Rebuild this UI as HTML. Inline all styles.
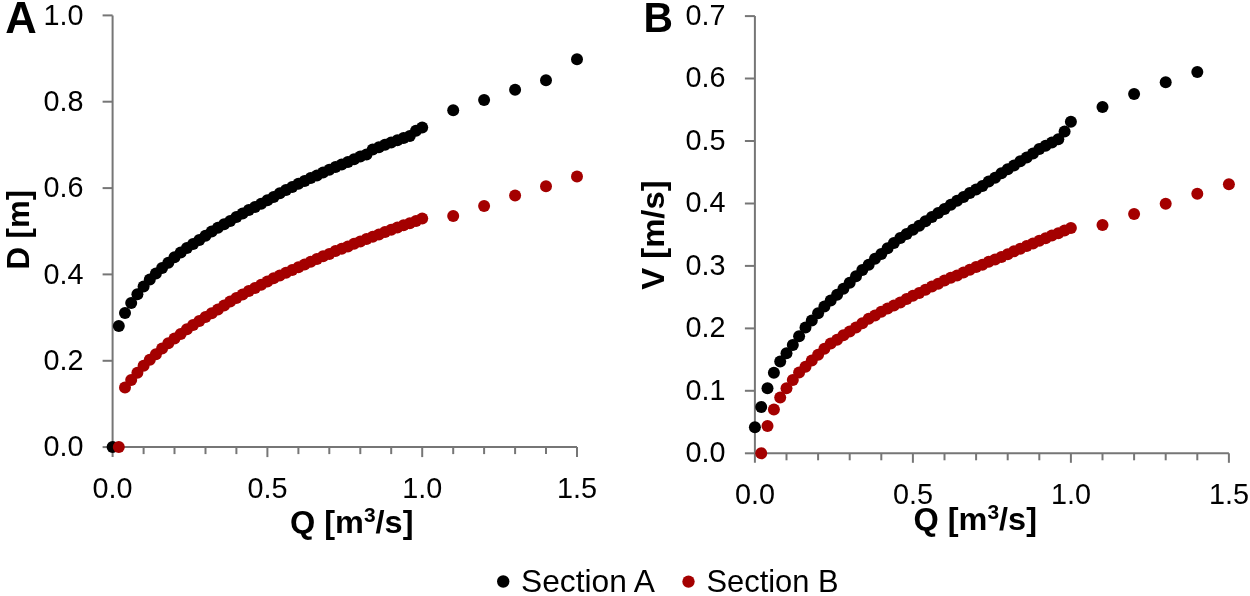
<!DOCTYPE html>
<html><head><meta charset="utf-8"><style>
html,body{margin:0;padding:0;background:#fff;width:1250px;height:596px;overflow:hidden}
svg{display:block;will-change:transform}
.t{font-family:"Liberation Sans",sans-serif;font-size:29.5px;fill:#000}
.b{font-family:"Liberation Sans",sans-serif;font-weight:bold;fill:#000}
</style></head><body>
<svg width="1250" height="596" viewBox="0 0 1250 596">
<rect width="1250" height="596" fill="#fff"/>
<line x1="112.6" y1="15.4" x2="112.6" y2="457.1" stroke="#767676" stroke-width="2"/>
<line x1="112.6" y1="447.1" x2="577.0" y2="447.1" stroke="#767676" stroke-width="2"/>
<line x1="102.6" y1="447.1" x2="112.6" y2="447.1" stroke="#767676" stroke-width="2"/>
<line x1="102.6" y1="360.8" x2="112.6" y2="360.8" stroke="#767676" stroke-width="2"/>
<line x1="102.6" y1="274.4" x2="112.6" y2="274.4" stroke="#767676" stroke-width="2"/>
<line x1="102.6" y1="188.1" x2="112.6" y2="188.1" stroke="#767676" stroke-width="2"/>
<line x1="102.6" y1="101.7" x2="112.6" y2="101.7" stroke="#767676" stroke-width="2"/>
<line x1="102.6" y1="15.4" x2="112.6" y2="15.4" stroke="#767676" stroke-width="2"/>
<line x1="143.6" y1="447.1" x2="143.6" y2="454.1" stroke="#767676" stroke-width="2"/>
<line x1="174.5" y1="447.1" x2="174.5" y2="454.1" stroke="#767676" stroke-width="2"/>
<line x1="205.5" y1="447.1" x2="205.5" y2="454.1" stroke="#767676" stroke-width="2"/>
<line x1="236.4" y1="447.1" x2="236.4" y2="454.1" stroke="#767676" stroke-width="2"/>
<line x1="267.4" y1="447.1" x2="267.4" y2="457.1" stroke="#767676" stroke-width="2"/>
<line x1="298.4" y1="447.1" x2="298.4" y2="454.1" stroke="#767676" stroke-width="2"/>
<line x1="329.3" y1="447.1" x2="329.3" y2="454.1" stroke="#767676" stroke-width="2"/>
<line x1="360.3" y1="447.1" x2="360.3" y2="454.1" stroke="#767676" stroke-width="2"/>
<line x1="391.2" y1="447.1" x2="391.2" y2="454.1" stroke="#767676" stroke-width="2"/>
<line x1="422.2" y1="447.1" x2="422.2" y2="457.1" stroke="#767676" stroke-width="2"/>
<line x1="453.2" y1="447.1" x2="453.2" y2="454.1" stroke="#767676" stroke-width="2"/>
<line x1="484.1" y1="447.1" x2="484.1" y2="454.1" stroke="#767676" stroke-width="2"/>
<line x1="515.1" y1="447.1" x2="515.1" y2="454.1" stroke="#767676" stroke-width="2"/>
<line x1="546.0" y1="447.1" x2="546.0" y2="454.1" stroke="#767676" stroke-width="2"/>
<line x1="577.0" y1="447.1" x2="577.0" y2="457.1" stroke="#767676" stroke-width="2"/>
<line x1="754.9" y1="16.1" x2="754.9" y2="462.8" stroke="#767676" stroke-width="2"/>
<line x1="754.9" y1="453.3" x2="1228.9" y2="453.3" stroke="#767676" stroke-width="2"/>
<line x1="744.9" y1="453.3" x2="754.9" y2="453.3" stroke="#767676" stroke-width="2"/>
<line x1="744.9" y1="390.8" x2="754.9" y2="390.8" stroke="#767676" stroke-width="2"/>
<line x1="744.9" y1="328.4" x2="754.9" y2="328.4" stroke="#767676" stroke-width="2"/>
<line x1="744.9" y1="265.9" x2="754.9" y2="265.9" stroke="#767676" stroke-width="2"/>
<line x1="744.9" y1="203.5" x2="754.9" y2="203.5" stroke="#767676" stroke-width="2"/>
<line x1="744.9" y1="141.0" x2="754.9" y2="141.0" stroke="#767676" stroke-width="2"/>
<line x1="744.9" y1="78.5" x2="754.9" y2="78.5" stroke="#767676" stroke-width="2"/>
<line x1="744.9" y1="16.1" x2="754.9" y2="16.1" stroke="#767676" stroke-width="2"/>
<line x1="786.5" y1="453.3" x2="786.5" y2="460.3" stroke="#767676" stroke-width="2"/>
<line x1="818.1" y1="453.3" x2="818.1" y2="460.3" stroke="#767676" stroke-width="2"/>
<line x1="849.7" y1="453.3" x2="849.7" y2="460.3" stroke="#767676" stroke-width="2"/>
<line x1="881.3" y1="453.3" x2="881.3" y2="460.3" stroke="#767676" stroke-width="2"/>
<line x1="912.9" y1="453.3" x2="912.9" y2="462.8" stroke="#767676" stroke-width="2"/>
<line x1="944.5" y1="453.3" x2="944.5" y2="460.3" stroke="#767676" stroke-width="2"/>
<line x1="976.1" y1="453.3" x2="976.1" y2="460.3" stroke="#767676" stroke-width="2"/>
<line x1="1007.7" y1="453.3" x2="1007.7" y2="460.3" stroke="#767676" stroke-width="2"/>
<line x1="1039.3" y1="453.3" x2="1039.3" y2="460.3" stroke="#767676" stroke-width="2"/>
<line x1="1070.9" y1="453.3" x2="1070.9" y2="462.8" stroke="#767676" stroke-width="2"/>
<line x1="1102.5" y1="453.3" x2="1102.5" y2="460.3" stroke="#767676" stroke-width="2"/>
<line x1="1134.1" y1="453.3" x2="1134.1" y2="460.3" stroke="#767676" stroke-width="2"/>
<line x1="1165.7" y1="453.3" x2="1165.7" y2="460.3" stroke="#767676" stroke-width="2"/>
<line x1="1197.3" y1="453.3" x2="1197.3" y2="460.3" stroke="#767676" stroke-width="2"/>
<line x1="1228.9" y1="453.3" x2="1228.9" y2="462.8" stroke="#767676" stroke-width="2"/>
<text x="83.6" y="456.4" text-anchor="end" class="t" textLength="40" lengthAdjust="spacingAndGlyphs">0.0</text>
<text x="83.6" y="370.1" text-anchor="end" class="t" textLength="40" lengthAdjust="spacingAndGlyphs">0.2</text>
<text x="83.6" y="283.7" text-anchor="end" class="t" textLength="40" lengthAdjust="spacingAndGlyphs">0.4</text>
<text x="83.6" y="197.4" text-anchor="end" class="t" textLength="40" lengthAdjust="spacingAndGlyphs">0.6</text>
<text x="83.6" y="111.0" text-anchor="end" class="t" textLength="40" lengthAdjust="spacingAndGlyphs">0.8</text>
<text x="83.6" y="24.7" text-anchor="end" class="t" textLength="40" lengthAdjust="spacingAndGlyphs">1.0</text>
<text x="112.6" y="497.6" text-anchor="middle" class="t" textLength="40" lengthAdjust="spacingAndGlyphs">0.0</text>
<text x="267.4" y="497.6" text-anchor="middle" class="t" textLength="40" lengthAdjust="spacingAndGlyphs">0.5</text>
<text x="422.2" y="497.6" text-anchor="middle" class="t" textLength="40" lengthAdjust="spacingAndGlyphs">1.0</text>
<text x="577.0" y="497.6" text-anchor="middle" class="t" textLength="40" lengthAdjust="spacingAndGlyphs">1.5</text>
<text x="725.6" y="462.0" text-anchor="end" class="t" textLength="40" lengthAdjust="spacingAndGlyphs">0.0</text>
<text x="725.6" y="399.5" text-anchor="end" class="t" textLength="40" lengthAdjust="spacingAndGlyphs">0.1</text>
<text x="725.6" y="337.1" text-anchor="end" class="t" textLength="40" lengthAdjust="spacingAndGlyphs">0.2</text>
<text x="725.6" y="274.6" text-anchor="end" class="t" textLength="40" lengthAdjust="spacingAndGlyphs">0.3</text>
<text x="725.6" y="212.2" text-anchor="end" class="t" textLength="40" lengthAdjust="spacingAndGlyphs">0.4</text>
<text x="725.6" y="149.7" text-anchor="end" class="t" textLength="40" lengthAdjust="spacingAndGlyphs">0.5</text>
<text x="725.6" y="87.2" text-anchor="end" class="t" textLength="40" lengthAdjust="spacingAndGlyphs">0.6</text>
<text x="725.6" y="24.8" text-anchor="end" class="t" textLength="40" lengthAdjust="spacingAndGlyphs">0.7</text>
<text x="754.9" y="503.5" text-anchor="middle" class="t" textLength="40" lengthAdjust="spacingAndGlyphs">0.0</text>
<text x="912.9" y="503.5" text-anchor="middle" class="t" textLength="40" lengthAdjust="spacingAndGlyphs">0.5</text>
<text x="1070.9" y="503.5" text-anchor="middle" class="t" textLength="40" lengthAdjust="spacingAndGlyphs">1.0</text>
<text x="1228.9" y="503.5" text-anchor="middle" class="t" textLength="40" lengthAdjust="spacingAndGlyphs">1.5</text>
<text x="5.2" y="32.8" class="b" font-size="43.5" textLength="31.5" lengthAdjust="spacingAndGlyphs">A</text>
<text x="643.6" y="32.3" class="b" font-size="43" textLength="29.5" lengthAdjust="spacingAndGlyphs">B</text>
<text transform="translate(28.8,269.5) rotate(-90)" class="b" font-size="31" textLength="79.5" lengthAdjust="spacingAndGlyphs">D [m]</text>
<text transform="translate(664.3,289.8) rotate(-90)" class="b" font-size="31" textLength="109.5" lengthAdjust="spacingAndGlyphs">V [m/s]</text>
<text x="290" y="533.2" class="b" font-size="31" textLength="123.5" lengthAdjust="spacingAndGlyphs">Q [m<tspan font-size="20" dy="-11">3</tspan><tspan dy="11">/s]</tspan></text>
<text x="913.5" y="529.6" class="b" font-size="31" textLength="123.5" lengthAdjust="spacingAndGlyphs">Q [m<tspan font-size="20" dy="-11">3</tspan><tspan dy="11">/s]</tspan></text>
<circle cx="503.2" cy="581.5" r="6.2" fill="#000000"/>
<text x="521" y="591.6" class="t" style="font-size:32px" textLength="134" lengthAdjust="spacingAndGlyphs">Section A</text>
<circle cx="688.5" cy="581.6" r="6.2" fill="#A40000"/>
<text x="706.5" y="591.6" class="t" style="font-size:32px" textLength="132" lengthAdjust="spacingAndGlyphs">Section B</text>
<circle cx="112.6" cy="447.1" r="6.0" fill="#000000"/>
<circle cx="118.8" cy="326.0" r="6.0" fill="#000000"/>
<circle cx="125.0" cy="313.1" r="6.0" fill="#000000"/>
<circle cx="131.2" cy="302.9" r="6.0" fill="#000000"/>
<circle cx="137.4" cy="294.2" r="6.0" fill="#000000"/>
<circle cx="143.6" cy="286.5" r="6.0" fill="#000000"/>
<circle cx="149.8" cy="279.6" r="6.0" fill="#000000"/>
<circle cx="155.9" cy="273.5" r="6.0" fill="#000000"/>
<circle cx="162.1" cy="268.1" r="6.0" fill="#000000"/>
<circle cx="168.3" cy="262.7" r="6.0" fill="#000000"/>
<circle cx="174.5" cy="257.3" r="6.0" fill="#000000"/>
<circle cx="180.7" cy="252.6" r="6.0" fill="#000000"/>
<circle cx="186.9" cy="248.0" r="6.0" fill="#000000"/>
<circle cx="193.1" cy="243.9" r="6.0" fill="#000000"/>
<circle cx="199.3" cy="240.0" r="6.0" fill="#000000"/>
<circle cx="205.5" cy="235.8" r="6.0" fill="#000000"/>
<circle cx="211.7" cy="231.4" r="6.0" fill="#000000"/>
<circle cx="217.9" cy="227.7" r="6.0" fill="#000000"/>
<circle cx="224.1" cy="224.2" r="6.0" fill="#000000"/>
<circle cx="230.2" cy="220.9" r="6.0" fill="#000000"/>
<circle cx="236.4" cy="217.0" r="6.0" fill="#000000"/>
<circle cx="242.6" cy="213.5" r="6.0" fill="#000000"/>
<circle cx="248.8" cy="209.9" r="6.0" fill="#000000"/>
<circle cx="255.0" cy="207.0" r="6.0" fill="#000000"/>
<circle cx="261.2" cy="203.7" r="6.0" fill="#000000"/>
<circle cx="267.4" cy="200.3" r="6.0" fill="#000000"/>
<circle cx="273.6" cy="196.9" r="6.0" fill="#000000"/>
<circle cx="279.8" cy="193.3" r="6.0" fill="#000000"/>
<circle cx="286.0" cy="190.0" r="6.0" fill="#000000"/>
<circle cx="292.2" cy="186.9" r="6.0" fill="#000000"/>
<circle cx="298.4" cy="183.7" r="6.0" fill="#000000"/>
<circle cx="304.6" cy="180.9" r="6.0" fill="#000000"/>
<circle cx="310.7" cy="178.1" r="6.0" fill="#000000"/>
<circle cx="316.9" cy="175.4" r="6.0" fill="#000000"/>
<circle cx="323.1" cy="172.6" r="6.0" fill="#000000"/>
<circle cx="329.3" cy="169.8" r="6.0" fill="#000000"/>
<circle cx="335.5" cy="167.1" r="6.0" fill="#000000"/>
<circle cx="341.7" cy="164.4" r="6.0" fill="#000000"/>
<circle cx="347.9" cy="161.9" r="6.0" fill="#000000"/>
<circle cx="354.1" cy="159.3" r="6.0" fill="#000000"/>
<circle cx="360.3" cy="156.6" r="6.0" fill="#000000"/>
<circle cx="366.5" cy="154.6" r="6.0" fill="#000000"/>
<circle cx="372.7" cy="149.4" r="6.0" fill="#000000"/>
<circle cx="378.9" cy="147.3" r="6.0" fill="#000000"/>
<circle cx="385.0" cy="144.8" r="6.0" fill="#000000"/>
<circle cx="391.2" cy="142.4" r="6.0" fill="#000000"/>
<circle cx="397.4" cy="140.2" r="6.0" fill="#000000"/>
<circle cx="403.6" cy="138.1" r="6.0" fill="#000000"/>
<circle cx="409.8" cy="136.0" r="6.0" fill="#000000"/>
<circle cx="416.0" cy="130.7" r="6.0" fill="#000000"/>
<circle cx="422.2" cy="127.4" r="6.0" fill="#000000"/>
<circle cx="453.2" cy="110.3" r="6.0" fill="#000000"/>
<circle cx="484.1" cy="100.0" r="6.0" fill="#000000"/>
<circle cx="515.1" cy="89.8" r="6.0" fill="#000000"/>
<circle cx="546.0" cy="80.2" r="6.0" fill="#000000"/>
<circle cx="577.0" cy="59.3" r="6.0" fill="#000000"/>
<circle cx="118.8" cy="447.1" r="6.0" fill="#A40000"/>
<circle cx="125.0" cy="387.6" r="6.0" fill="#A40000"/>
<circle cx="131.2" cy="379.9" r="6.0" fill="#A40000"/>
<circle cx="137.4" cy="372.8" r="6.0" fill="#A40000"/>
<circle cx="143.6" cy="365.7" r="6.0" fill="#A40000"/>
<circle cx="149.8" cy="359.8" r="6.0" fill="#A40000"/>
<circle cx="155.9" cy="354.2" r="6.0" fill="#A40000"/>
<circle cx="162.1" cy="348.4" r="6.0" fill="#A40000"/>
<circle cx="168.3" cy="343.3" r="6.0" fill="#A40000"/>
<circle cx="174.5" cy="338.6" r="6.0" fill="#A40000"/>
<circle cx="180.7" cy="334.0" r="6.0" fill="#A40000"/>
<circle cx="186.9" cy="329.2" r="6.0" fill="#A40000"/>
<circle cx="193.1" cy="325.0" r="6.0" fill="#A40000"/>
<circle cx="199.3" cy="321.0" r="6.0" fill="#A40000"/>
<circle cx="205.5" cy="316.9" r="6.0" fill="#A40000"/>
<circle cx="211.7" cy="313.2" r="6.0" fill="#A40000"/>
<circle cx="217.9" cy="309.5" r="6.0" fill="#A40000"/>
<circle cx="224.1" cy="305.5" r="6.0" fill="#A40000"/>
<circle cx="230.2" cy="301.4" r="6.0" fill="#A40000"/>
<circle cx="236.4" cy="297.9" r="6.0" fill="#A40000"/>
<circle cx="242.6" cy="294.5" r="6.0" fill="#A40000"/>
<circle cx="248.8" cy="291.1" r="6.0" fill="#A40000"/>
<circle cx="255.0" cy="288.0" r="6.0" fill="#A40000"/>
<circle cx="261.2" cy="284.7" r="6.0" fill="#A40000"/>
<circle cx="267.4" cy="281.6" r="6.0" fill="#A40000"/>
<circle cx="273.6" cy="278.3" r="6.0" fill="#A40000"/>
<circle cx="279.8" cy="275.6" r="6.0" fill="#A40000"/>
<circle cx="286.0" cy="272.8" r="6.0" fill="#A40000"/>
<circle cx="292.2" cy="270.1" r="6.0" fill="#A40000"/>
<circle cx="298.4" cy="267.3" r="6.0" fill="#A40000"/>
<circle cx="304.6" cy="264.5" r="6.0" fill="#A40000"/>
<circle cx="310.7" cy="261.8" r="6.0" fill="#A40000"/>
<circle cx="316.9" cy="259.0" r="6.0" fill="#A40000"/>
<circle cx="323.1" cy="256.2" r="6.0" fill="#A40000"/>
<circle cx="329.3" cy="253.9" r="6.0" fill="#A40000"/>
<circle cx="335.5" cy="251.1" r="6.0" fill="#A40000"/>
<circle cx="341.7" cy="248.8" r="6.0" fill="#A40000"/>
<circle cx="347.9" cy="246.4" r="6.0" fill="#A40000"/>
<circle cx="354.1" cy="243.7" r="6.0" fill="#A40000"/>
<circle cx="360.3" cy="241.4" r="6.0" fill="#A40000"/>
<circle cx="366.5" cy="239.1" r="6.0" fill="#A40000"/>
<circle cx="372.7" cy="236.8" r="6.0" fill="#A40000"/>
<circle cx="378.9" cy="234.4" r="6.0" fill="#A40000"/>
<circle cx="385.0" cy="232.1" r="6.0" fill="#A40000"/>
<circle cx="391.2" cy="229.8" r="6.0" fill="#A40000"/>
<circle cx="397.4" cy="227.5" r="6.0" fill="#A40000"/>
<circle cx="403.6" cy="225.3" r="6.0" fill="#A40000"/>
<circle cx="409.8" cy="223.2" r="6.0" fill="#A40000"/>
<circle cx="416.0" cy="221.1" r="6.0" fill="#A40000"/>
<circle cx="422.2" cy="218.5" r="6.0" fill="#A40000"/>
<circle cx="453.2" cy="216.1" r="6.0" fill="#A40000"/>
<circle cx="484.1" cy="205.9" r="6.0" fill="#A40000"/>
<circle cx="515.1" cy="195.6" r="6.0" fill="#A40000"/>
<circle cx="546.0" cy="186.2" r="6.0" fill="#A40000"/>
<circle cx="577.0" cy="176.6" r="6.0" fill="#A40000"/>
<circle cx="754.9" cy="427.3" r="6.0" fill="#000000"/>
<circle cx="761.2" cy="406.9" r="6.0" fill="#000000"/>
<circle cx="767.5" cy="388.2" r="6.0" fill="#000000"/>
<circle cx="773.9" cy="372.7" r="6.0" fill="#000000"/>
<circle cx="780.2" cy="361.5" r="6.0" fill="#000000"/>
<circle cx="786.5" cy="353.3" r="6.0" fill="#000000"/>
<circle cx="792.8" cy="344.9" r="6.0" fill="#000000"/>
<circle cx="799.1" cy="336.3" r="6.0" fill="#000000"/>
<circle cx="805.5" cy="327.4" r="6.0" fill="#000000"/>
<circle cx="811.8" cy="320.6" r="6.0" fill="#000000"/>
<circle cx="818.1" cy="313.3" r="6.0" fill="#000000"/>
<circle cx="824.4" cy="306.5" r="6.0" fill="#000000"/>
<circle cx="830.7" cy="300.6" r="6.0" fill="#000000"/>
<circle cx="837.1" cy="294.8" r="6.0" fill="#000000"/>
<circle cx="843.4" cy="288.7" r="6.0" fill="#000000"/>
<circle cx="849.7" cy="282.7" r="6.0" fill="#000000"/>
<circle cx="856.0" cy="276.2" r="6.0" fill="#000000"/>
<circle cx="862.3" cy="270.0" r="6.0" fill="#000000"/>
<circle cx="868.7" cy="264.7" r="6.0" fill="#000000"/>
<circle cx="875.0" cy="258.7" r="6.0" fill="#000000"/>
<circle cx="881.3" cy="253.9" r="6.0" fill="#000000"/>
<circle cx="887.6" cy="248.3" r="6.0" fill="#000000"/>
<circle cx="893.9" cy="243.0" r="6.0" fill="#000000"/>
<circle cx="900.3" cy="237.9" r="6.0" fill="#000000"/>
<circle cx="906.6" cy="233.9" r="6.0" fill="#000000"/>
<circle cx="912.9" cy="229.8" r="6.0" fill="#000000"/>
<circle cx="919.2" cy="225.8" r="6.0" fill="#000000"/>
<circle cx="925.5" cy="221.2" r="6.0" fill="#000000"/>
<circle cx="931.9" cy="217.1" r="6.0" fill="#000000"/>
<circle cx="938.2" cy="213.0" r="6.0" fill="#000000"/>
<circle cx="944.5" cy="208.9" r="6.0" fill="#000000"/>
<circle cx="950.8" cy="204.8" r="6.0" fill="#000000"/>
<circle cx="957.1" cy="200.7" r="6.0" fill="#000000"/>
<circle cx="963.5" cy="197.1" r="6.0" fill="#000000"/>
<circle cx="969.8" cy="193.0" r="6.0" fill="#000000"/>
<circle cx="976.1" cy="189.5" r="6.0" fill="#000000"/>
<circle cx="982.4" cy="185.9" r="6.0" fill="#000000"/>
<circle cx="988.7" cy="181.5" r="6.0" fill="#000000"/>
<circle cx="995.1" cy="177.7" r="6.0" fill="#000000"/>
<circle cx="1001.4" cy="173.3" r="6.0" fill="#000000"/>
<circle cx="1007.7" cy="169.2" r="6.0" fill="#000000"/>
<circle cx="1014.0" cy="165.4" r="6.0" fill="#000000"/>
<circle cx="1020.3" cy="161.3" r="6.0" fill="#000000"/>
<circle cx="1026.7" cy="157.4" r="6.0" fill="#000000"/>
<circle cx="1033.0" cy="153.4" r="6.0" fill="#000000"/>
<circle cx="1039.3" cy="149.1" r="6.0" fill="#000000"/>
<circle cx="1045.6" cy="145.8" r="6.0" fill="#000000"/>
<circle cx="1051.9" cy="142.4" r="6.0" fill="#000000"/>
<circle cx="1058.3" cy="139.3" r="6.0" fill="#000000"/>
<circle cx="1064.6" cy="131.5" r="6.0" fill="#000000"/>
<circle cx="1070.9" cy="121.8" r="6.0" fill="#000000"/>
<circle cx="1102.5" cy="107.1" r="6.0" fill="#000000"/>
<circle cx="1134.1" cy="94.0" r="6.0" fill="#000000"/>
<circle cx="1165.7" cy="82.3" r="6.0" fill="#000000"/>
<circle cx="1197.3" cy="72.0" r="6.0" fill="#000000"/>
<circle cx="761.2" cy="453.3" r="6.0" fill="#A40000"/>
<circle cx="767.5" cy="426.1" r="6.0" fill="#A40000"/>
<circle cx="773.9" cy="409.5" r="6.0" fill="#A40000"/>
<circle cx="780.2" cy="397.5" r="6.0" fill="#A40000"/>
<circle cx="786.5" cy="388.3" r="6.0" fill="#A40000"/>
<circle cx="792.8" cy="379.9" r="6.0" fill="#A40000"/>
<circle cx="799.1" cy="372.5" r="6.0" fill="#A40000"/>
<circle cx="805.5" cy="366.8" r="6.0" fill="#A40000"/>
<circle cx="811.8" cy="360.6" r="6.0" fill="#A40000"/>
<circle cx="818.1" cy="354.7" r="6.0" fill="#A40000"/>
<circle cx="824.4" cy="348.7" r="6.0" fill="#A40000"/>
<circle cx="830.7" cy="343.5" r="6.0" fill="#A40000"/>
<circle cx="837.1" cy="339.7" r="6.0" fill="#A40000"/>
<circle cx="843.4" cy="335.2" r="6.0" fill="#A40000"/>
<circle cx="849.7" cy="331.4" r="6.0" fill="#A40000"/>
<circle cx="856.0" cy="327.5" r="6.0" fill="#A40000"/>
<circle cx="862.3" cy="323.2" r="6.0" fill="#A40000"/>
<circle cx="868.7" cy="318.8" r="6.0" fill="#A40000"/>
<circle cx="875.0" cy="315.5" r="6.0" fill="#A40000"/>
<circle cx="881.3" cy="311.8" r="6.0" fill="#A40000"/>
<circle cx="887.6" cy="308.6" r="6.0" fill="#A40000"/>
<circle cx="893.9" cy="305.4" r="6.0" fill="#A40000"/>
<circle cx="900.3" cy="302.6" r="6.0" fill="#A40000"/>
<circle cx="906.6" cy="298.9" r="6.0" fill="#A40000"/>
<circle cx="912.9" cy="295.7" r="6.0" fill="#A40000"/>
<circle cx="919.2" cy="292.9" r="6.0" fill="#A40000"/>
<circle cx="925.5" cy="289.7" r="6.0" fill="#A40000"/>
<circle cx="931.9" cy="286.4" r="6.0" fill="#A40000"/>
<circle cx="938.2" cy="283.7" r="6.0" fill="#A40000"/>
<circle cx="944.5" cy="280.4" r="6.0" fill="#A40000"/>
<circle cx="950.8" cy="277.7" r="6.0" fill="#A40000"/>
<circle cx="957.1" cy="275.4" r="6.0" fill="#A40000"/>
<circle cx="963.5" cy="272.6" r="6.0" fill="#A40000"/>
<circle cx="969.8" cy="269.8" r="6.0" fill="#A40000"/>
<circle cx="976.1" cy="267.1" r="6.0" fill="#A40000"/>
<circle cx="982.4" cy="264.8" r="6.0" fill="#A40000"/>
<circle cx="988.7" cy="261.8" r="6.0" fill="#A40000"/>
<circle cx="995.1" cy="259.4" r="6.0" fill="#A40000"/>
<circle cx="1001.4" cy="256.9" r="6.0" fill="#A40000"/>
<circle cx="1007.7" cy="254.2" r="6.0" fill="#A40000"/>
<circle cx="1014.0" cy="251.3" r="6.0" fill="#A40000"/>
<circle cx="1020.3" cy="248.8" r="6.0" fill="#A40000"/>
<circle cx="1026.7" cy="245.9" r="6.0" fill="#A40000"/>
<circle cx="1033.0" cy="243.4" r="6.0" fill="#A40000"/>
<circle cx="1039.3" cy="240.8" r="6.0" fill="#A40000"/>
<circle cx="1045.6" cy="238.2" r="6.0" fill="#A40000"/>
<circle cx="1051.9" cy="235.6" r="6.0" fill="#A40000"/>
<circle cx="1058.3" cy="233.2" r="6.0" fill="#A40000"/>
<circle cx="1064.6" cy="230.6" r="6.0" fill="#A40000"/>
<circle cx="1070.9" cy="228.1" r="6.0" fill="#A40000"/>
<circle cx="1102.5" cy="225.0" r="6.0" fill="#A40000"/>
<circle cx="1134.1" cy="213.9" r="6.0" fill="#A40000"/>
<circle cx="1165.7" cy="203.7" r="6.0" fill="#A40000"/>
<circle cx="1197.3" cy="193.8" r="6.0" fill="#A40000"/>
<circle cx="1228.9" cy="184.2" r="6.0" fill="#A40000"/>
</svg>
</body></html>
